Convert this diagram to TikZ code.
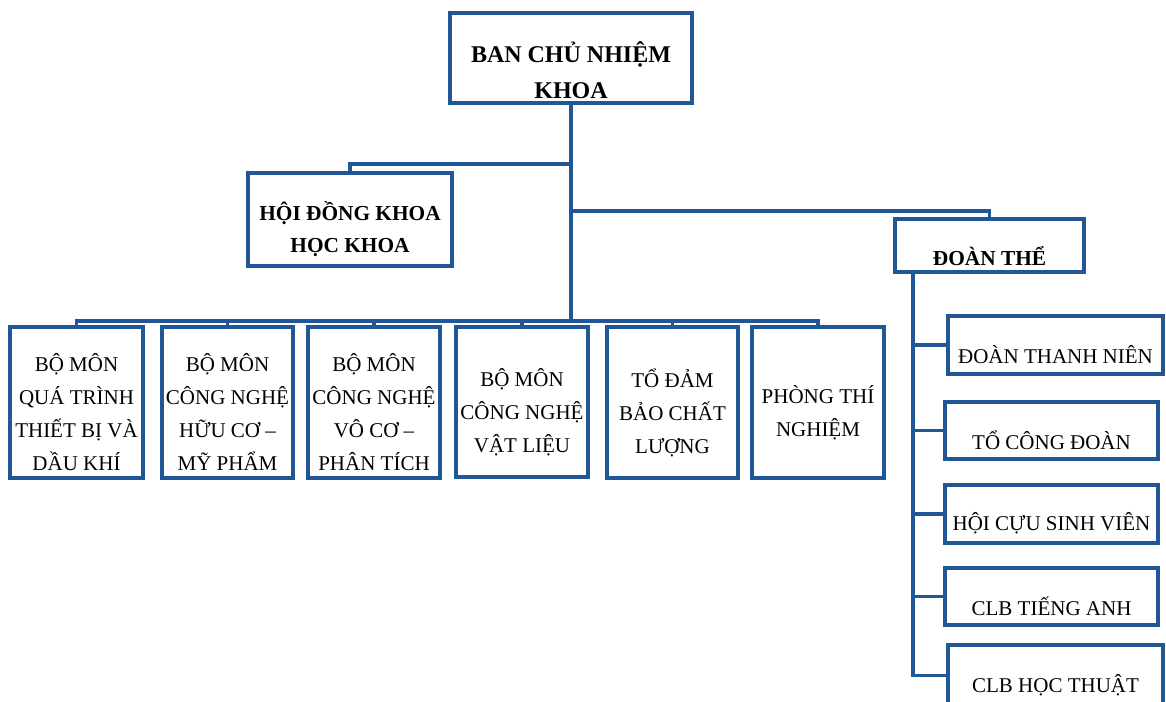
\documentclass[tikz,border=0pt]{standalone}
\usepackage{fontspec}
\setmainfont{Liberation Serif}
\usetikzlibrary{fit}
\definecolor{bl}{RGB}{33,87,150}
\begin{document}
\begin{tikzpicture}[x=0.75pt,y=-0.75pt,
 box/.style={draw=bl,line width=2.5pt,inner sep=0pt,fill=white},
 con/.style={draw=bl,line width=2.6pt},
 lbl/.style={align=center,text=black,inner sep=0pt,font=\fontsize{15.75}{24.75}\selectfont},
 blbl/.style={align=center,text=black,inner sep=0pt,font=\bfseries\fontsize{16}{24}\selectfont},
 tlbl/.style={align=center,text=black,inner sep=0pt,font=\bfseries\fontsize{18}{27}\selectfont}]
\path[use as bounding box] (0,0) rectangle (1166,702);
\clip (0,0) rectangle (1166,702);
% boxes
\node[box,fit={(450,13)(692,103)}] (ban) {};
\node[box,fit={(248,173)(452,266)}] (hd) {};
\node[box,fit={(895,219)(1084,272)}] (dt) {};
\node[box,fit={(10,327)(143,478)}] (b1) {};
\node[box,fit={(162,327)(293,478)}] (b2) {};
\node[box,fit={(308,327)(440,478)}] (b3) {};
\node[box,fit={(456,327)(588,477)}] (b4) {};
\node[box,fit={(607,327)(738,478)}] (b5) {};
\node[box,fit={(752,327)(884,478)}] (b6) {};
\node[box,fit={(948,316)(1163,374)}] (r1) {};
\node[box,fit={(945,402)(1158,459)}] (r2) {};
\node[box,fit={(945,485)(1158,543)}] (r3) {};
\node[box,fit={(945,568)(1158,625)}] (r4) {};
\node[box,fit={(948,645)(1163,706)}] (r5) {};
% connectors
\coordinate (j) at (571,321);
\coordinate (jh) at (571,164);
\coordinate (jd) at (571,211);
\coordinate (vx) at (913,0);
\draw[con] (ban.south) -- (j);
\draw[con] (hd.north) |- (jh);
\draw[con] (dt.north) |- (jd);
\draw[con] (b1.north) |- (j) -| (b6.north);
\foreach \b in {b2,b3,b4,b5} \draw[con] (\b.north) -- (\b.north |- j);
\draw[con] (vx |- dt.south) |- (r5.west);
\foreach \r in {r1,r2,r3,r4} \draw[con] (vx |- \r.west) -- (\r.west);
% labels
\node[tlbl] at ([yshift=-9pt]ban.center) {BAN CHỦ NHIỆM\\KHOA};
\node[blbl] at ([yshift=-7pt]hd.center) {HỘI ĐỒNG KHOA\\HỌC KHOA};
\node[blbl] at ([yshift=-8pt]dt.center) {ĐOÀN THỂ};
\node[lbl] at ([yshift=-7pt]b1.center) {BỘ MÔN\\QUÁ TRÌNH\\THIẾT BỊ VÀ\\DẦU KHÍ};
\node[lbl] at ([yshift=-7pt]b2.center) {BỘ MÔN\\CÔNG NGHỆ\\HỮU CƠ –\\MỸ PHẨM};
\node[lbl] at ([yshift=-7pt]b3.center) {BỘ MÔN\\CÔNG NGHỆ\\VÔ CƠ –\\PHÂN TÍCH};
\node[lbl] at ([yshift=-8pt]b4.center) {BỘ MÔN\\CÔNG NGHỆ\\VẬT LIỆU};
\node[lbl] at ([yshift=-8pt]b5.center) {TỔ ĐẢM\\BẢO CHẤT\\LƯỢNG};
\node[lbl] at ([yshift=-8pt]b6.center) {PHÒNG THÍ\\NGHIỆM};
\node[lbl] at ([yshift=-7pt]r1.center) {ĐOÀN THANH NIÊN};
\node[lbl] at ([yshift=-7pt]r2.center) {TỔ CÔNG ĐOÀN};
\node[lbl] at ([yshift=-7pt]r3.center) {HỘI CỰU SINH VIÊN};
\node[lbl] at ([yshift=-7pt]r4.center) {CLB TIẾNG ANH};
\node[lbl] at ([yshift=-7pt]r5.center) {CLB HỌC THUẬT};
\end{tikzpicture}
\end{document}
